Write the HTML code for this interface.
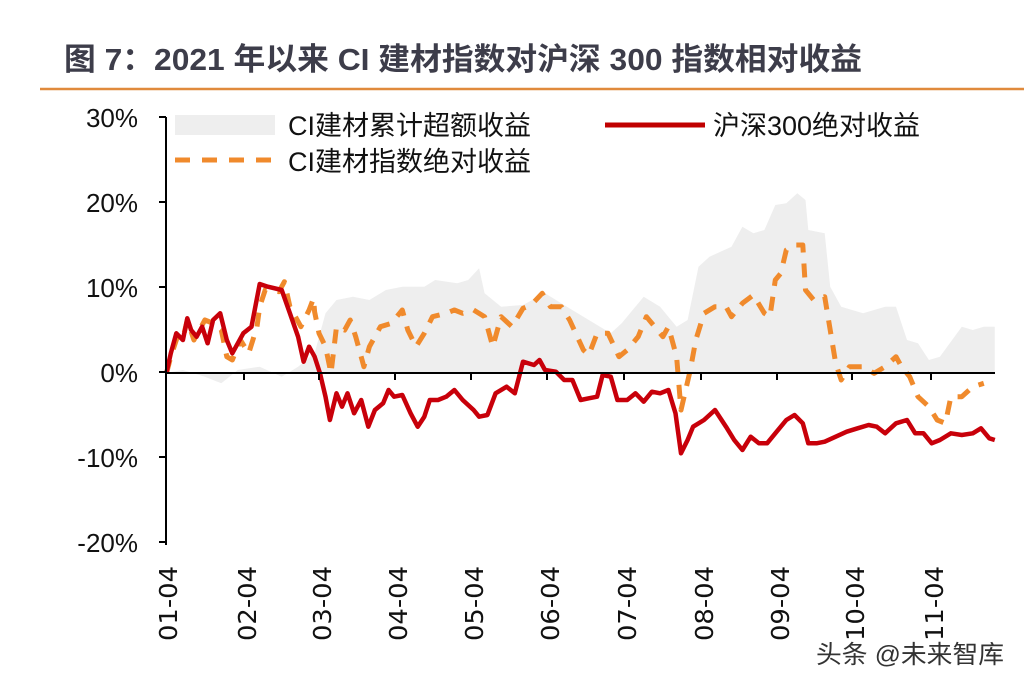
<!DOCTYPE html>
<html><head><meta charset="utf-8"><style>
body{margin:0;background:#fff;width:1024px;height:686px;overflow:hidden}
svg{display:block}
</style></head><body>
<svg id="s" width="1024" height="686" xmlns="http://www.w3.org/2000/svg">
<text x="64" y="70" font-family="Liberation Sans, Noto Sans CJK SC, sans-serif" font-size="31" font-weight="bold" fill="#3d3d4a" textLength="798" lengthAdjust="spacingAndGlyphs">图 7：2021 年以来 CI 建材指数对沪深 300 指数相对收益</text>
<line x1="40" y1="89" x2="1024" y2="89" stroke="#e08a3c" stroke-width="2.5"/>
<g id="plot"></g>
<line x1="166" y1="117" x2="166" y2="545" stroke="#000" stroke-width="2"/>
<g stroke="#000" stroke-width="2">
<line x1="159" y1="117" x2="166" y2="117"/><line x1="159" y1="202" x2="166" y2="202"/>
<line x1="159" y1="287" x2="166" y2="287"/><line x1="159" y1="372" x2="166" y2="372"/>
<line x1="159" y1="457" x2="166" y2="457"/><line x1="159" y1="542" x2="166" y2="542"/>
<line x1="166" y1="373" x2="995" y2="373"/>
</g>
<g id="xt" stroke="#000" stroke-width="2"></g>
<g font-family="Liberation Sans, sans-serif" font-size="26" fill="#111" text-anchor="end">
<text x="138" y="127">30%</text><text x="138" y="212">20%</text><text x="138" y="297">10%</text>
<text x="138" y="382">0%</text><text x="138" y="467">-10%</text><text x="138" y="552">-20%</text>
</g>
<g id="xl" font-family="DejaVu Sans, sans-serif" font-size="25" fill="#111"></g>
<rect x="175" y="115" width="100" height="20" fill="#eeeeee"/>
<line x1="605" y1="125" x2="705" y2="125" stroke="#c00000" stroke-width="5"/>
<line x1="175" y1="160" x2="275" y2="160" stroke="#f08a2c" stroke-width="5" stroke-dasharray="15,12"/>
<g font-family="Liberation Sans, Noto Sans CJK SC, sans-serif" font-size="27" fill="#111">
<text x="288" y="135">CI建材累计超额收益</text>
<text x="713" y="135">沪深300绝对收益</text>
<text x="288" y="171">CI建材指数绝对收益</text>
</g>
<text x="816" y="663" font-family="Liberation Sans, Noto Sans CJK SC, sans-serif" font-size="25" fill="#333" textLength="188" lengthAdjust="spacingAndGlyphs">头条 @未来智库</text>
</svg>
<script>
function cv(a){var r=[];for(var i=0;i<a.length;i+=2){r.push((a[i]/1.823+150).toFixed(1)+','+(a[i+1]/3+180).toFixed(1));}return r;}
var red=[30,578,38,520,48,460,60,480,68,415,75,450,85,470,95,440,105,490,115,420,128,400,140,480,150,520,160,490,170,460,185,440,200,312,215,320,240,330,255,400,270,470,280,545,290,500,300,530,310,580,320,650,328,720,340,640,350,680,360,640,372,700,385,660,398,740,410,690,425,670,435,630,445,650,460,645,475,700,488,740,500,710,510,660,525,660,540,650,555,630,570,660,590,690,600,710,615,705,630,640,650,620,665,640,680,545,700,555,710,540,720,570,740,575,755,600,770,600,785,660,800,655,815,650,825,585,840,590,852,660,870,660,885,640,900,665,915,635,930,640,945,630,958,700,968,820,980,780,990,740,1010,720,1030,690,1050,740,1065,780,1080,810,1095,770,1110,790,1125,790,1140,760,1160,720,1175,705,1190,730,1200,790,1215,790,1230,785,1250,770,1270,755,1290,745,1310,735,1325,740,1340,760,1360,730,1380,720,1395,760,1410,760,1425,790,1440,780,1460,760,1480,765,1500,760,1515,745,1530,775,1540,780];
var org=[30,580,38,530,50,470,60,475,68,420,80,480,90,450,100,420,115,430,130,450,140,530,150,540,165,480,180,520,195,440,200,380,210,330,235,335,245,305,255,380,265,410,275,440,290,390,298,355,300,395,308,460,320,500,330,580,340,440,355,450,365,420,375,470,390,560,400,500,420,440,440,430,460,390,470,450,485,500,500,460,515,410,540,400,555,390,570,400,590,390,610,410,625,500,640,410,660,440,680,385,695,375,715,340,730,380,750,380,765,420,790,510,800,525,815,460,835,460,855,530,870,510,890,470,905,410,920,440,935,470,945,440,960,530,968,690,985,570,995,480,1010,400,1030,380,1050,380,1060,410,1080,370,1100,345,1120,400,1130,410,1140,300,1150,280,1160,210,1175,195,1190,195,1195,330,1210,360,1230,350,1240,450,1250,550,1260,600,1275,560,1300,560,1320,580,1340,560,1360,530,1370,560,1385,590,1400,650,1420,680,1435,720,1450,730,1460,650,1480,650,1500,620,1520,610];
var gry=[30,578,60,570,100,590,130,610,160,570,200,560,240,590,270,560,300,520,320,400,340,360,370,350,400,360,430,330,460,320,500,320,520,300,560,310,580,300,600,265,610,340,640,380,680,375,720,340,760,380,800,420,840,460,860,430,900,350,930,380,960,440,980,420,1000,260,1020,230,1060,200,1080,140,1100,160,1120,150,1140,75,1160,70,1180,40,1195,60,1200,150,1230,160,1240,320,1260,380,1300,400,1340,380,1360,380,1380,480,1400,490,1420,540,1440,530,1480,440,1500,450,1520,440,1540,440,1540,578];
var NS='http://www.w3.org/2000/svg',g=document.getElementById('plot');
function add(tag,at){var e=document.createElementNS(NS,tag);for(var k in at)e.setAttribute(k,at[k]);return e;}
g.appendChild(add('polygon',{points:cv(gry).join(' '),fill:'#eeeeee'}));
g.appendChild(add('polyline',{points:cv(org).join(' '),fill:'none',stroke:'#f08a2c','stroke-width':5,'stroke-dasharray':'14,11','stroke-linejoin':'round'}));
g.appendChild(add('polyline',{points:cv(red).join(' '),fill:'none',stroke:'#c8000a','stroke-width':4.5,'stroke-linejoin':'round'}));
var xs=[168,247,322,398,474,550,627,704,780,855,934],lb=['01-04','02-04','03-04','04-04','05-04','06-04','07-04','08-04','09-04','10-04','11-04'];
var xt=document.getElementById('xt'),xl=document.getElementById('xl');
for(var i=1;i<xs.length;i++){xt.appendChild(add('line',{x1:xs[i]-3,y1:373,x2:xs[i]-3,y2:380}));}
for(var i=0;i<xs.length;i++){var t=add('text',{x:0,y:0,transform:'translate('+(xs[i]+9)+',641) rotate(-90)',textLength:75,lengthAdjust:'spacingAndGlyphs'});t.textContent=lb[i];xl.appendChild(t);}
</script>
</body></html>
